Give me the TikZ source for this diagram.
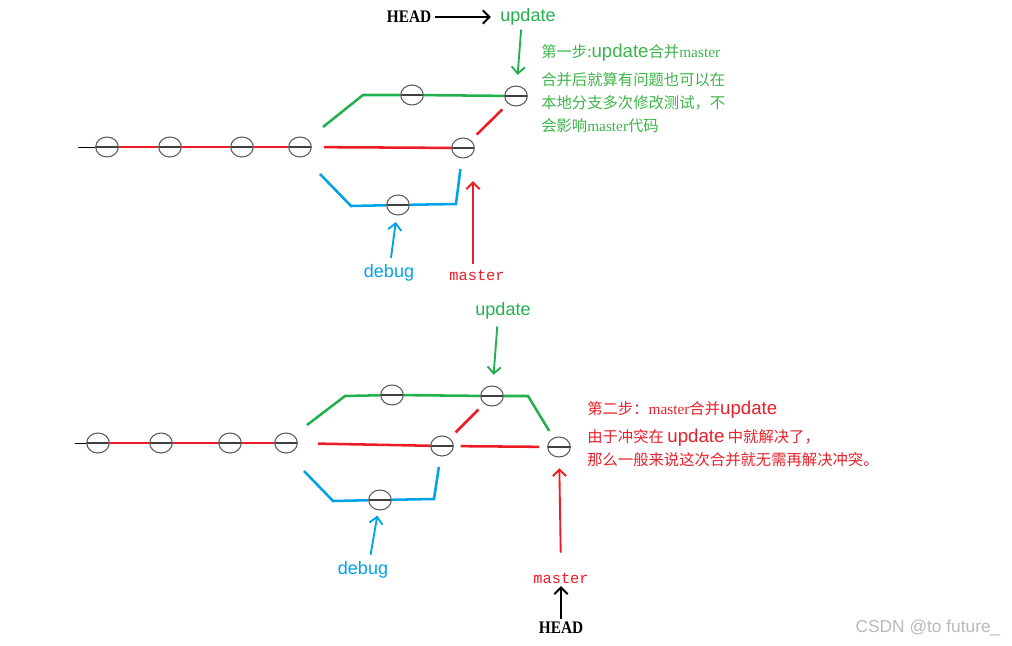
\documentclass[tikz,border=0pt]{standalone}
\usepackage{fontspec}
\setmainfont{Liberation Serif}
\newfontfamily\cjk{Noto Sans CJK SC}
\newfontfamily\lsans{Liberation Sans}
\newfontfamily\lmono{Liberation Mono}
\usepackage{xcolor}
\usetikzlibrary{arrows.meta,positioning,shapes.geometric}
\definecolor{brgreen}{HTML}{22B14C}
\definecolor{brred}{HTML}{ED1C24}
\definecolor{brblue}{HTML}{00A2E8}
\definecolor{txtgreen}{HTML}{3DB54A}
\definecolor{txtred}{HTML}{E8202A}
\definecolor{cmtgray}{HTML}{5A5A5A}
\newcommand{\upd}{{\lsans\fontsize{14}{16}\selectfont update}}
\newcommand{\mst}{{\rmfamily master}}

\begin{document}
\begin{tikzpicture}[
  x=0.75pt, y=-0.75pt,
  cmt/.style={ellipse, draw=cmtgray, line width=0.8pt, fill=white,
              minimum width=17pt, minimum height=15pt, inner sep=0pt,
              path picture={\draw[black!75, line width=0.8pt]
                (path picture bounding box.west) -- (path picture bounding box.east);}},
  gline/.style={brgreen, line width=1.9pt},
  rline/.style={brred, line width=1.9pt},
  bline/.style={brblue, line width=1.9pt},
  tail/.style={black, line width=0.7pt},
  ptr/.style={-{Straight Barb[length=5pt,width=10pt]}, line width=1.4pt},
  lbl/.style={inner sep=1pt},
  head/.style={lbl, font=\bfseries\fontsize{11.5}{13}\selectfont, yscale=1.15},
  note/.style={anchor=north west, inner sep=0pt, align=left,
               font=\cjk\fontsize{11.5}{17.5}\selectfont}
]
  \useasboundingbox (0,0) rectangle (1012,645);

  % step one: update merges master
  \coordinate (t0) at (78,147);
  \node[cmt] (ta) at (107,147) {};
  \node[cmt] (tb) at (170,147) {};
  \node[cmt] (tc) at (242,147) {};
  \node[cmt] (td) at (300,147) {};
  \node[cmt] (tu1) at (412,95) {};
  \node[cmt] (tu2) at (516,96) {};
  \node[cmt] (tm1) at (463,148) {};
  \node[cmt] (tdb) at (398,205) {};
  \coordinate (tg0) at (323,127);
  \coordinate (tg1) at (363,95);
  \coordinate (tb0) at (320,174);
  \coordinate (tb1) at (351,206);
  \coordinate (tb2) at (456,204);

  \draw[tail] (t0) -- (ta);
  \draw[rline] (ta) -- (tb);
  \draw[rline] (tb) -- (tc);
  \draw[rline] (tc) -- (td);
  \draw[gline] (tg0) -- (tg1) -- (tu1);
  \draw[gline] (tu1) -- (tu2);
  \draw[rline, shorten <=9pt] (td) -- (tm1);
  \draw[rline, shorten <=6pt, shorten >=6pt] (tm1) -- (tu2);
  \draw[bline] (tb0) -- (tb1) -- (tdb);
  \draw[bline, shorten >=8pt] (tdb) -- (tb2) -- (tm1);

  \node[head] (th) at (409,17) {HEAD};
  \node[lbl, text=brgreen, font=\lsans\fontsize{13.5}{16}\selectfont] (tup) at (528,17) {update};
  \node[lbl, text=brblue, font=\lsans\fontsize{13.5}{16}\selectfont] (tdl) at (389,273) {debug};
  \node[lbl, text=brred, font=\lmono\fontsize{11.5}{14}\selectfont] (tml) at (477,275) {master};
  \draw[ptr, shorten <=2pt, shorten >=6pt] (th) -- (tup);
  \draw[ptr, brgreen, shorten <=2pt, shorten >=8pt] ([xshift=-5pt]tup.south) -- (tu2);
  \draw[ptr, brblue, shorten <=4pt, shorten >=5pt] (tdl) -- (tdb);
  \draw[ptr, brred, shorten <=3pt, shorten >=17pt] ([xshift=-3pt]tml.north) -- ([xshift=-3pt]tml.north |- tm1.south);

  \node[note, text=txtgreen] (tnote) at (541,44)
    {第一步:\upd 合并\mst\\[3pt]合并后就算有问题也可以在\\本地分支多次修改测试，不\\会影响\mst 代码};

  % step two: master merges update
  \coordinate (b0) at (75,443);
  \node[cmt] (ba) at (98,443) {};
  \node[cmt] (bb) at (161,443) {};
  \node[cmt] (bc) at (230,443) {};
  \node[cmt] (bd) at (286,443) {};
  \node[cmt] (bu1) at (392,395) {};
  \node[cmt] (bu2) at (492,396) {};
  \node[cmt] (bm1) at (442,446) {};
  \node[cmt] (bm2) at (559,447) {};
  \node[cmt] (bdb) at (380,500) {};
  \coordinate (bg0) at (307,425);
  \coordinate (bg1) at (345,396);
  \coordinate (bg2) at (528,396);
  \coordinate (bb0) at (304,471);
  \coordinate (bb1) at (333,501);
  \coordinate (bb2) at (434,499);

  \draw[tail] (b0) -- (ba);
  \draw[rline] (ba) -- (bb);
  \draw[rline] (bb) -- (bc);
  \draw[rline] (bc) -- (bd);
  \draw[gline] (bg0) -- (bg1) -- (bu1);
  \draw[gline] (bu1) -- (bu2);
  \draw[gline, shorten >=6pt] (bu2) -- (bg2) -- (bm2);
  \draw[rline, shorten <=15pt] (bd) -- (bm1);
  \draw[rline, shorten <=6pt, shorten >=6pt] (bm1) -- (bu2);
  \draw[rline, shorten <=5pt, shorten >=6pt] (bm1) -- (bm2);
  \draw[bline] (bb0) -- (bb1) -- (bdb);
  \draw[bline, shorten >=8pt] (bdb) -- (bb2) -- (bm1);

  \node[lbl, text=brgreen, font=\lsans\fontsize{13.5}{16}\selectfont] (bup) at (503,311) {update};
  \node[lbl, text=brblue, font=\lsans\fontsize{13.5}{16}\selectfont] (bdl) at (363,570) {debug};
  \node[lbl, text=brred, font=\lmono\fontsize{11.5}{14}\selectfont] (bml) at (561,578) {master};
  \node[head] (bh) at (561,628) {HEAD};
  \draw[ptr, brgreen, shorten <=4pt, shorten >=8pt] ([xshift=-4pt]bup.south) -- (bu2);
  \draw[ptr, brblue, shorten <=4pt, shorten >=4pt] ([xshift=5pt]bdl.north) -- (bdb);
  \draw[ptr, brred, shorten <=14pt, shorten >=8pt] (bml.north) -- (bm2);
  \draw[ptr, shorten <=1pt, shorten >=1pt] (bh) -- (bml);

  \node[note, text=txtred] (bnote) at (587,401)
    {第二步：\mst 合并\upd\\[3pt]由于冲突在 \upd{} 中就解决了，\\那么一般来说这次合并就无需再解决冲突。};

  \node[text=gray!55, font=\lsans\fontsize{13}{15}\selectfont] (mark) at (928,628) {CSDN @to future\_};
\end{tikzpicture}
\end{document}
